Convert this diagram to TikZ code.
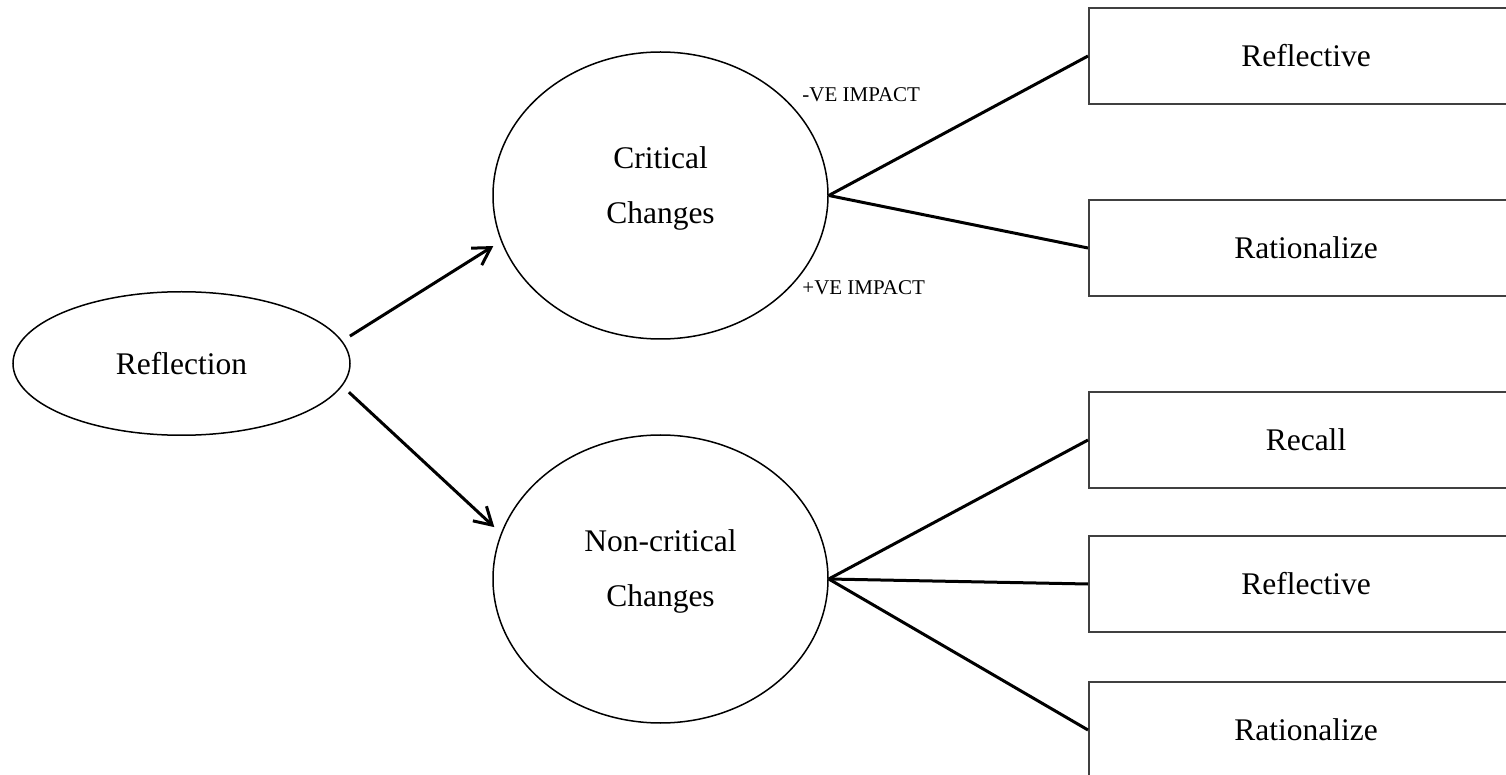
\documentclass[tikz,border=0pt]{standalone}
\usepackage{fontspec}
\setmainfont{Liberation Serif}
\usetikzlibrary{shapes.geometric,arrows.meta}
\begin{document}
\begin{tikzpicture}[x=0.5pt,y=-0.5pt,
  oval/.style={ellipse,draw,line width=0.75pt,inner sep=0pt,align=center,
    font=\fontsize{15.75}{27.5}\selectfont},
  catbox/.style={rectangle,draw=black!75,line width=1pt,minimum width=217pt,
    minimum height=48pt,anchor=west,font=\fontsize{15.75}{19}\selectfont},
  link/.style={line width=1.5pt},
  arr/.style={line width=1.5pt,shorten <=4.5pt,shorten >=4.5pt,
    -{Straight Barb[length=8.5pt,width=10pt]}},
  tag/.style={font=\fontsize{10.5}{12}\selectfont,anchor=base west,inner sep=0pt}]
\useasboundingbox (0,0) rectangle (1506,775);
\clip (0,0) rectangle (1506,775);
% ovals
\node[oval,minimum width=168.5pt,minimum height=71.75pt] (refl) at (181.5,363.5) {Reflection};
\node[oval,minimum width=167.5pt,minimum height=143.5pt,text depth=10.5pt] (crit) at (660.5,195.5) {Critical\\Changes};
\node[oval,minimum width=167.5pt,minimum height=144pt,text depth=10.5pt] (noncrit) at (660.5,579) {Non-critical\\Changes};
% boxes
\node[catbox] (b1) at (1088,56) {Reflective};
\node[catbox] (b2) at (1088,248) {Rationalize};
\node[catbox] (b3) at (1088,440) {Recall};
\node[catbox] (b4) at (1088,584) {Reflective};
\node[catbox] (b5) at (1088,730) {Rationalize};
% tags
\node[tag] (neg) at (802,102) {-VE IMPACT};
\node[tag] (pos) at (802,295) {+VE IMPACT};
% arrows
\draw[arr] (refl.8) -- (crit.196);
\draw[arr] (refl.-8) -- (noncrit.164);
% connectors
\draw[link] (crit.east) -- (b1.west);
\draw[link] (crit.east) -- (b2.west);
\draw[link] (noncrit.east) -- (b3.west);
\draw[link] (noncrit.east) -- (b4.west);
\draw[link] (noncrit.east) -- (b5.west);
\end{tikzpicture}
\end{document}
